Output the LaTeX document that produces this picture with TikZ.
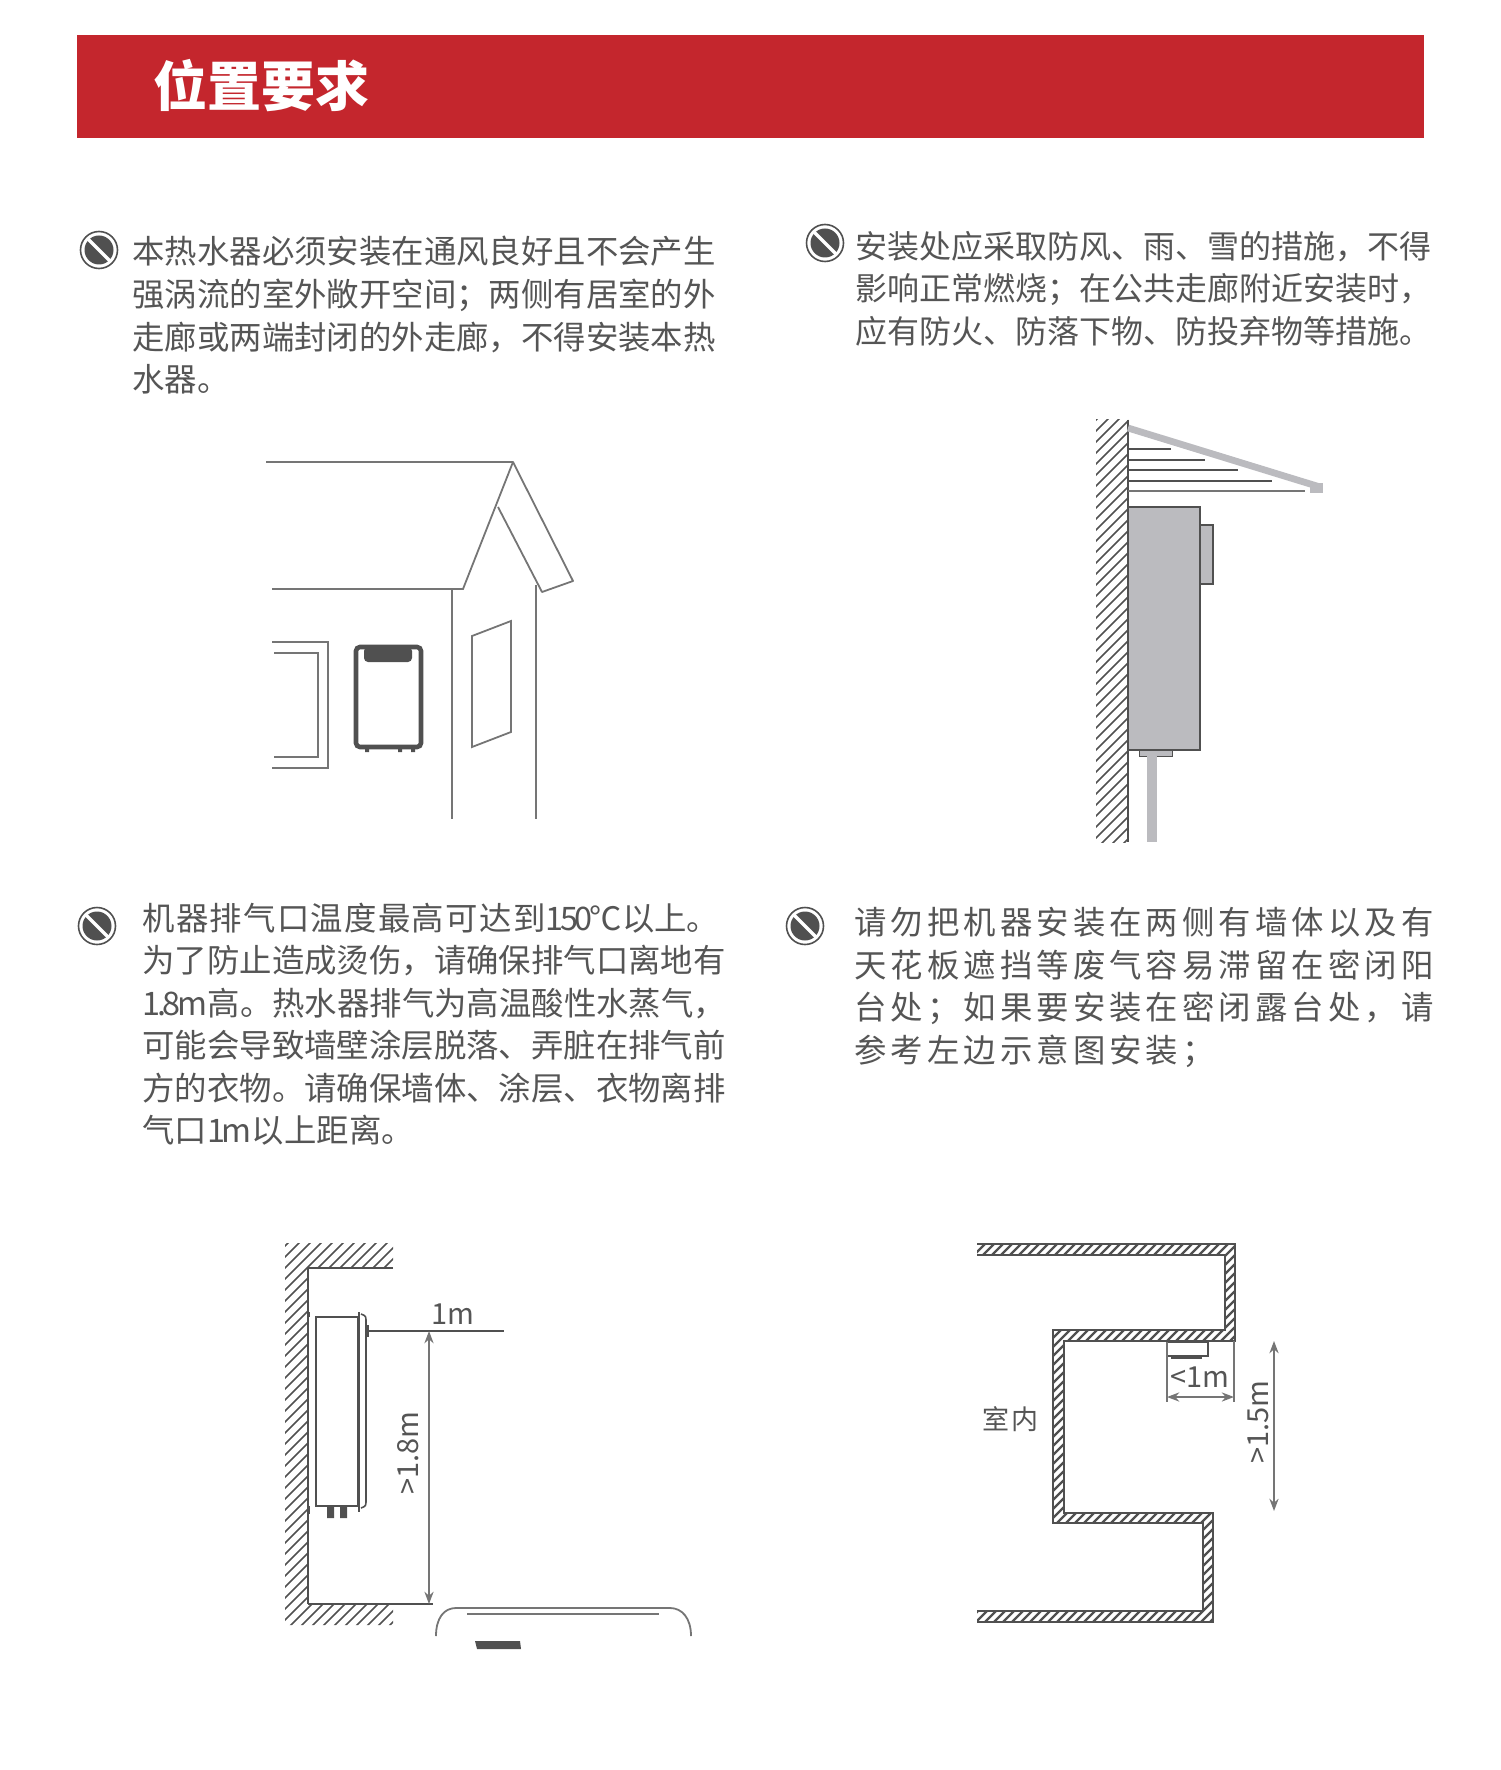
\documentclass[tikz,border=0pt]{standalone}
\usepackage{fontspec}
\setmainfont{Noto Sans CJK SC}
\newfontfamily\widefont[LetterSpace=12.5]{Noto Sans CJK SC}
\newfontfamily\loosefont[LetterSpace=4]{Noto Sans CJK SC}
\newfontfamily\tightfont[LetterSpace=-10]{Noto Sans CJK SC}
\usetikzlibrary{arrows.meta}

% full width comma and semicolon
\newcommand{\fwcomma}{\char"FF0C\relax}
\newcommand{\fwsemi}{\char"FF1B\relax}

\definecolor{bannerred}{HTML}{C4262D}
\definecolor{textgray}{HTML}{555555}
\definecolor{linegray}{HTML}{757575}
\definecolor{darkgray}{HTML}{505050}
\definecolor{boxgray}{HTML}{BBBBBF}

\tikzset{
	bodytext/.style={anchor=north west,align=left,inner sep=0pt,text=textgray,font=\fontsize{16.2}{21.4}\selectfont},
	dimtext/.style={inner sep=0pt,text=textgray,font=\fontsize{14.5}{16}\selectfont},
	houseline/.style={draw=linegray,line width=.9pt},
	wallline/.style={draw=darkgray,line width=.9pt},
	hatchline/.style={draw=darkgray,line width=.75pt},
	dimline/.style={Stealth-Stealth,draw=linegray,line width=.7pt},
	forbid/.pic={
		\draw[draw=darkgray,line width=.8pt,fill=white] (0,0) circle (18.5);
		\fill[darkgray] (0,0) circle (14.5);
		\draw[white,line width=1.7pt] (-11,-11) -- (11,11);
	}
}

\begin{document}
\begin{tikzpicture}[x=.5pt,y=-.5pt]
	\useasboundingbox (0,0) rectangle (1500,1770);

	% title bar
	\fill[bannerred] (77,35) rectangle (1424,138);
	\node[inner sep=0pt,text=white,font=\fontsize{27}{30}\selectfont\bfseries,anchor=west] (title) at (153,86) {位置要求};

	% four notes
	\pic at (99,250) {forbid};
	\node[bodytext] (notea) at (132,235.5) {本热水器必须安装在通风良好且不会产生\\强涡流的室外敞开空间\fwsemi 两侧有居室的外\\走廊或两端封闭的外走廊\fwcomma 不得安装本热\\水器。};
	\pic at (825,243) {forbid};
	\node[bodytext,font=\fontsize{16}{21.4}\selectfont] (noteb) at (855,230.5) {安装处应采取防风、雨、雪的措施\fwcomma 不得\\影响正常燃烧\fwsemi 在公共走廊附近安装时\fwcomma\\应有防火、防落下物、防投弃物等措施。};
	\pic at (97,926) {forbid};
	\node[bodytext,font=\fontsize{16.2}{21.25}\selectfont] (notec) at (142,902.5) {{\loosefont 机器排气口温度最高可达到}{\tightfont 150℃}以上。\\为了防止造成烫伤\fwcomma 请确保排气口离地有\\{\tightfont 1.8m}高。热水器排气为高温酸性水蒸气\fwcomma\\可能会导致墙壁涂层脱落、弄脏在排气前\\方的衣物。请确保墙体、涂层、衣物离排\\气口{\tightfont 1m}以上距离。};
	\pic at (805,926) {forbid};
	\node[bodytext,font=\widefont\fontsize{16.2}{21.3}\selectfont] (noted) at (854,907) {请勿把机器安装在两侧有墙体以及有\\天花板遮挡等废气容易滞留在密闭阳\\台处\fwsemi 如果要安装在密闭露台处\fwcomma 请\\参考左边示意图安装\fwsemi};

	% house
	\draw[houseline,line join=round] (266,462) -- (513,462) -- (573,581) -- (542,592) -- (498,507);
	\draw[houseline] (513,462) -- (463,589) -- (272,589);
	\draw[houseline] (452,589) -- (452,819);
	\draw[houseline] (536,585) -- (536,819);
	\draw[houseline] (472,636) -- (511,621) -- (511,732) -- (472,747) -- cycle;
	\draw[houseline] (272,642) -- (328,642) -- (328,768) -- (272,768);
	\draw[houseline] (274,653) -- (318,653) -- (318,757) -- (274,757);
	% heater on the house
	\draw[darkgray,line width=2.3pt,rounded corners=2pt] (356,647) rectangle (421,747);
	\fill[darkgray,rounded corners=2pt] (364,647) rectangle (412,662);
	\fill[darkgray] (365,747) rectangle (369,752) (398,747) rectangle (402,752) (411,747) rectangle (415,752);

	% canopy wall
	\begin{scope}
		\clip (1096,420) rectangle (1128,842);
		\foreach \k in {0,...,44} \draw[hatchline] (1088,{428+\k*11}) -- ++(45,-45);
	\end{scope}
	\draw[wallline] (1128,420) -- (1128,842);
	\draw[draw=darkgray,line width=.7pt] (1128,449) -- (1171,449) (1128,460) -- (1205,460) (1128,470) -- (1238,470) (1128,481) -- (1272,481);
	\draw[draw=linegray,line width=.7pt] (1128,491) -- (1305,491);
	\draw[draw=boxgray,line width=3.4pt] (1128,428) -- (1320,487);
	\fill[boxgray] (1310,483) rectangle (1323,493);
	\draw[draw=darkgray,line width=.6pt,fill=boxgray] (1200,525) rectangle (1213,584);
	\draw[draw=darkgray,line width=.9pt,fill=boxgray] (1128,507) rectangle (1200,750);
	\draw[draw=darkgray,line width=.5pt,fill=boxgray] (1139,750) rectangle (1172,756);
	\draw[draw=boxgray,line width=5pt] (1152,756) -- (1152,842);

	% wall with heater and clearances
	\begin{scope}
		\clip (285,1243) rectangle (308,1625) (285,1243) rectangle (393,1268) (285,1604) rectangle (393,1625);
		\foreach \k in {0,...,46} \draw[hatchline] (270,{1250+\k*11}) -- ++(160,-160);
	\end{scope}
	\draw[wallline] (393,1268) -- (308,1268) -- (308,1604);
	\coordinate (floorend) at (433,1604);
	\draw[wallline] (308,1604) -- (floorend);
	\draw[darkgray,line width=.7pt] (316,1317) rectangle (358,1506);
	\draw[darkgray,line width=1.1pt] (316,1317) -- (316,1506);
	\draw[darkgray,line width=1.5pt] (308,1312) -- (308,1317) (308,1506) -- (308,1514);
	\draw[darkgray,line width=1.3pt] (359,1312) -- (359,1512);
	\draw[darkgray,line width=.8pt] (361,1314) .. controls (366,1316) .. (366,1322) -- (366,1500) .. controls (366,1506) .. (361,1508);
	\draw[darkgray,line width=1.5pt] (367,1325) -- (367,1337);
	\fill[darkgray] (327,1506) rectangle (334,1518) (340,1506) rectangle (347,1518);
	\coordinate (ventout) at (368,1331);
	\coordinate (ventend) at (504,1331);
	\draw[draw=darkgray,line width=.8pt] (ventout) -- (ventend);
	\node[dimtext] (onem) at (453,1314) {1m};
	\coordinate (hightop) at (429,1331);
	\coordinate (highbot) at (429,1604);
	\draw[dimline] (hightop) -- (highbot);
	\node[dimtext,rotate=90] (highlabel) at (408,1453) {>1.8m};
	% table
	\draw[houseline] (436,1636) .. controls (436,1618) and (444,1608) .. (456,1608) -- (670,1608) .. controls (682,1608) and (691,1618) .. (691,1636);
	\draw[houseline] (467,1614) -- (659,1614);
	\fill[darkgray] (475,1641) -- (520,1641) -- (521,1649) -- (477,1649) -- cycle;

	% balcony plan
	\begin{scope}
		\clip (977,1244) -- (1235,1244) -- (1235,1341) -- (1064,1341) -- (1064,1513) -- (1213,1513) -- (1213,1622) -- (977,1622) -- (977,1611) -- (1203,1611) -- (1203,1523) -- (1053,1523) -- (1053,1330) -- (1225,1330) -- (1225,1255) -- (977,1255) -- cycle;
		\foreach \k in {0,...,72} \draw[draw=darkgray,line width=1.1pt] (970,{1250+\k*9}) -- ++(270,-270);
	\end{scope}
	\draw[wallline,line width=1.2pt] (977,1244) -- (1235,1244) -- (1235,1341) -- (1064,1341) -- (1064,1513) -- (1213,1513) -- (1213,1622) -- (977,1622);
	\draw[wallline,line width=1.2pt] (977,1255) -- (1225,1255) -- (1225,1330) -- (1053,1330) -- (1053,1523) -- (1203,1523) -- (1203,1611) -- (977,1611);
	\draw[darkgray,line width=.7pt,fill=white] (1167,1342) rectangle (1208,1356);
	\draw[darkgray,line width=.9pt] (1171,1358) -- (1202,1358);
	\coordinate (sideleft) at (1167,1397);
	\coordinate (sideright) at (1234,1397);
	\draw[draw=linegray,line width=.6pt] (1167,1342) -- (1167,1402) (1234,1341) -- (1234,1402);
	\draw[dimline] (sideleft) -- (sideright);
	\node[dimtext] (sidelabel) at (1200,1377) {<1m};
	\coordinate (gaptop) at (1274,1341);
	\coordinate (gapbot) at (1274,1511);
	\draw[dimline] (gaptop) -- (gapbot);
	\node[dimtext,rotate=90] (gaplabel) at (1258,1422) {>1.5m};
	\node[inner sep=0pt,text=textgray,font=\fontsize{13.5}{15}\selectfont] (indoor) at (1010,1419) {室\kern1pt 内};

\end{tikzpicture}
\end{document}
